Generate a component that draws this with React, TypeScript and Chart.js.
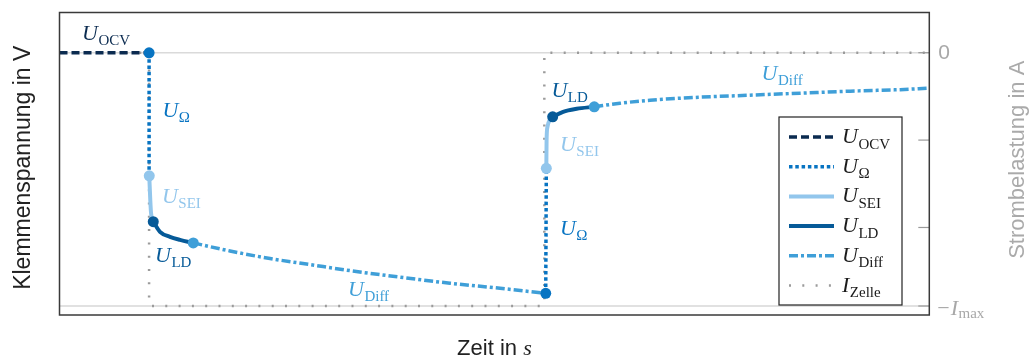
import { useEffect, useRef } from "react";
import { Chart, registerables } from "chart.js";

Chart.register(...registerables);

const W = 1030;
const H = 357;

// ---- data (time in s, voltage in V, current relative to I_max) ----
const timeOCV = [0, 10.3];
const voltOCV = [3.92, 3.92];
const timeOhm1 = [10.3, 10.3];
const voltOhm1 = [3.92, 3.676];
const timeSEI1 = [10.32, 10.44, 10.52, 10.78];
const voltSEI1 = [3.676, 3.627, 3.603, 3.585];
const timeLD1 = [10.78, 11.55, 12.7, 13.85, 15.38];
const voltLD1 = [3.585, 3.565, 3.555, 3.549, 3.543];
const timeDiff1 = [15.38, 19.6, 24.2, 28.8, 33.4, 39.15, 44.9, 50.65, 55.9];
const voltDiff1 = [3.543, 3.527, 3.512, 3.5, 3.488, 3.475, 3.463, 3.453, 3.443];
const timeOhm2 = [55.9, 55.97];
const voltOhm2 = [3.443, 3.691];
const timeSEI2 = [55.97, 56.0, 56.1, 56.4, 56.7];
const voltSEI2 = [3.691, 3.747, 3.773, 3.788, 3.793];
const timeLD2 = [56.7, 57.9, 59.46, 61.48];
const voltLD2 = [3.793, 3.803, 3.809, 3.813];
const timeDiff2 = [61.48, 64.44, 67.89, 73.64, 79.39, 85.14, 90.89, 96.64, 100];
const voltDiff2 = [3.813, 3.82, 3.826, 3.832, 3.836, 3.84, 3.844, 3.847, 3.85];
const timeCurrent = [0, 10.3, 10.3, 55.74, 55.74, 100];
const currentRel = [0, 0, -1, -1, 0, 0];
const currentTicks = [0, -0.345, -0.69, -1];

// in-plot annotation anchors (data units) and the series they refer to
const labelTime = [2.59, 11.84, 11.78, 10.98, 33.17, 56.56, 57.54, 57.54, 80.71];
const labelVolt = [3.9455, 3.7927, 3.622, 3.505, 3.4377, 3.832, 3.725, 3.5587, 3.866];
const labelSeries = [0, 1, 2, 3, 4, 3, 2, 1, 4];

// ---- styles ----
const series = [
  { main: "U", sub: "OCV", color: "#0b2b50", dash: [8, 4], width: 3.5 },
  { main: "U", sub: "Ω", color: "#0874c2", dash: [3.5, 2.8], width: 3.5 },
  { main: "U", sub: "SEI", color: "#92c6ec", dash: [] as number[], width: 4 },
  { main: "U", sub: "LD", color: "#065a98", dash: [] as number[], width: 4 },
  { main: "U", sub: "Diff", color: "#3f9fd8", dash: [9, 3, 3, 3], width: 3.5 },
  { main: "I", sub: "Zelle", color: "#9b9b9b", dash: [2, 11.3], width: 2.5 },
];

const SANS = '"Liberation Sans", Arial, sans-serif';
const SERIF = '"Liberation Serif", "Times New Roman", serif';

function pts(t: number[], v: number[]) {
  return t.map((x, i) => ({ x, y: v[i] }));
}

function lineDs(t: number[], v: number[], s: number, order: number, smooth: boolean, axis = "y") {
  const st = series[s];
  return {
    data: pts(t, v),
    borderColor: st.color,
    borderDash: st.dash,
    borderWidth: st.width,
    borderCapStyle: "butt",
    borderJoinStyle: "round",
    pointRadius: 0,
    pointHoverRadius: 0,
    fill: false,
    tension: 0,
    cubicInterpolationMode: smooth ? "monotone" : "default",
    order,
    yAxisID: axis,
  };
}

function drawMath(
  ctx: CanvasRenderingContext2D,
  x: number,
  y: number,
  main: string,
  sub: string,
  color: string,
  mainSize: number,
  subSize: number,
  dy: number
) {
  ctx.fillStyle = color;
  ctx.textAlign = "left";
  ctx.textBaseline = "alphabetic";
  ctx.font = `italic ${mainSize}px ${SERIF}`;
  ctx.fillText(main, x, y);
  const w = ctx.measureText(main).width;
  ctx.font = `${subSize}px ${SERIF}`;
  ctx.fillText(sub, x + w + 0.5, y + dy);
}

const overlay = {
  id: "overlay",
  beforeDatasetsDraw(chart: any) {
    const { ctx, chartArea: a, scales } = chart;
    const y2 = scales.y2;
    ctx.save();
    const grids: [number, string, number][] = [
      [0, "#dadada", 1.5],
      [-1, "#c4c4c4", 1.2],
    ];
    grids.forEach(([v, c, w]) => {
      const py = y2.getPixelForValue(v);
      ctx.strokeStyle = c;
      ctx.lineWidth = w;
      ctx.beginPath();
      ctx.moveTo(a.left, py);
      ctx.lineTo(a.right, py);
      ctx.stroke();
    });
    ctx.restore();
  },
  afterDraw(chart: any) {
    const { ctx, chartArea: a, scales } = chart;
    const xS = scales.x;
    const yS = scales.y;
    const y2 = scales.y2;
    ctx.save();

    // inward ticks on right axis
    ctx.strokeStyle = "#9a9a9a";
    ctx.lineWidth = 1.2;
    currentTicks.forEach((v) => {
      const py = y2.getPixelForValue(v);
      ctx.beginPath();
      ctx.moveTo(a.right - 11, py);
      ctx.lineTo(a.right, py);
      ctx.stroke();
    });

    // frame
    ctx.strokeStyle = "#3a3a3a";
    ctx.lineWidth = 1.5;
    ctx.strokeRect(a.left, a.top, a.right - a.left, a.bottom - a.top);

    // right tick labels
    ctx.fillStyle = "#a8a8a8";
    ctx.font = `21px ${SANS}`;
    ctx.textAlign = "left";
    ctx.textBaseline = "middle";
    ctx.fillText("0", a.right + 9, y2.getPixelForValue(0) + 1);
    const yI = y2.getPixelForValue(-1) + 9;
    ctx.textBaseline = "alphabetic";
    ctx.font = `22px ${SERIF}`;
    ctx.fillText("−", a.right + 8, yI);
    const mw = ctx.measureText("−").width;
    drawMath(ctx, a.right + 8 + mw + 1, yI, "I", "max", "#a8a8a8", 22, 15, 3);

    // axis titles
    ctx.fillStyle = "#222";
    ctx.font = `23px ${SANS}`;
    ctx.textAlign = "center";
    ctx.textBaseline = "alphabetic";
    ctx.save();
    ctx.translate(29.5, (a.top + a.bottom) / 2 + 4);
    ctx.rotate(-Math.PI / 2);
    ctx.fillText("Klemmenspannung in V", 0, 0);
    ctx.restore();

    ctx.save();
    ctx.fillStyle = "#aaaaaa";
    ctx.font = `22px ${SANS}`;
    ctx.translate(1024, (a.top + a.bottom) / 2 - 4);
    ctx.rotate(-Math.PI / 2);
    ctx.fillText("Strombelastung in A", 0, 0);
    ctx.restore();

    // x title "Zeit in s"
    ctx.font = `22px ${SANS}`;
    const p1 = "Zeit in ";
    const w1 = ctx.measureText(p1).width;
    ctx.font = `italic 22px ${SERIF}`;
    const w2 = ctx.measureText("s").width;
    const cx = (a.left + a.right) / 2;
    const x0 = cx - (w1 + w2) / 2;
    ctx.textAlign = "left";
    ctx.fillStyle = "#222";
    ctx.font = `22px ${SANS}`;
    ctx.fillText(p1, x0, 355);
    ctx.font = `italic 22px ${SERIF}`;
    ctx.fillText("s", x0 + w1, 355);

    // in-plot labels
    labelTime.forEach((t, i) => {
      const s = series[labelSeries[i]];
      drawMath(ctx, xS.getPixelForValue(t), yS.getPixelForValue(labelVolt[i]), s.main, s.sub, s.color, 22, 15, 5);
    });

    // legend
    const lw = 123;
    const lh = 188;
    const lx = a.right - 27.3 - lw;
    const ly = a.bottom - 10 - lh;
    ctx.fillStyle = "#ffffff";
    ctx.fillRect(lx, ly, lw, lh);
    ctx.strokeStyle = "#222";
    ctx.lineWidth = 1.2;
    ctx.strokeRect(lx, ly, lw, lh);
    series.forEach((s, i) => {
      const ry = ly + 20 + i * 29.7;
      ctx.save();
      ctx.strokeStyle = s.color;
      ctx.lineWidth = s.width;
      ctx.lineCap = "butt";
      ctx.setLineDash(s.dash);
      ctx.beginPath();
      ctx.moveTo(lx + 10, ry);
      ctx.lineTo(lx + 55, ry);
      ctx.stroke();
      ctx.restore();
      drawMath(ctx, lx + 63, ry + 6, s.main, s.sub, "#1a1a1a", 22, 15, 5.5);
    });

    ctx.restore();
  },
};

export default function App() {
  const ref = useRef<HTMLCanvasElement>(null);

  useEffect(() => {
    const canvas = ref.current;
    if (!canvas) return;

    const starts = [
      pts(timeOhm1, voltOhm1)[0],
      pts(timeSEI1, voltSEI1)[0],
      pts(timeLD1, voltLD1)[0],
      pts(timeDiff1, voltDiff1)[0],
      pts(timeOhm2, voltOhm2)[0],
      pts(timeSEI2, voltSEI2)[0],
      pts(timeLD2, voltLD2)[0],
      pts(timeDiff2, voltDiff2)[0],
    ];
    const startColors = [1, 2, 3, 4, 1, 2, 3, 4].map((i) => series[i].color);

    const chart = new Chart(canvas, {
      type: "line",
      data: {
        datasets: [
          lineDs(timeCurrent, currentRel, 5, 20, false, "y2"),
          lineDs(timeOCV, voltOCV, 0, 10, false),
          lineDs(timeOhm1, voltOhm1, 1, 9, false),
          lineDs(timeSEI1, voltSEI1, 2, 8, true),
          lineDs(timeLD1, voltLD1, 3, 7, true),
          lineDs(timeDiff1, voltDiff1, 4, 6, true),
          lineDs(timeOhm2, voltOhm2, 1, 9, false),
          lineDs(timeSEI2, voltSEI2, 2, 8, true),
          lineDs(timeLD2, voltLD2, 3, 7, true),
          lineDs(timeDiff2, voltDiff2, 4, 6, true),
          {
            data: starts,
            showLine: false,
            pointRadius: 5.5,
            pointHoverRadius: 5.5,
            pointBackgroundColor: startColors,
            pointBorderWidth: 0,
            borderColor: "transparent",
            order: 0,
            yAxisID: "y",
          } as any,
        ] as any,
      },
      options: {
        responsive: false,
        animation: false,
        devicePixelRatio: 1,
        layout: { padding: { left: 59.5, right: W - 929.3, top: 12.5, bottom: H - 315 } },
        plugins: { legend: { display: false }, tooltip: { enabled: false } },
        events: [],
        scales: {
          x: { type: "linear", min: 0, max: 100, display: false },
          y: { type: "linear", min: 3.4, max: 4.0, display: false },
          y2: { type: "linear", position: "right", min: -1.0355, max: 0.1587, display: false },
        },
      } as any,
      plugins: [overlay],
    });

    return () => chart.destroy();
  }, []);

  return (
    <div style={{ position: "fixed", left: 0, top: 0, width: W, height: H, background: "#fff" }}>
      <canvas ref={ref} width={W} height={H} style={{ display: "block", width: W, height: H }} />
    </div>
  );
}
